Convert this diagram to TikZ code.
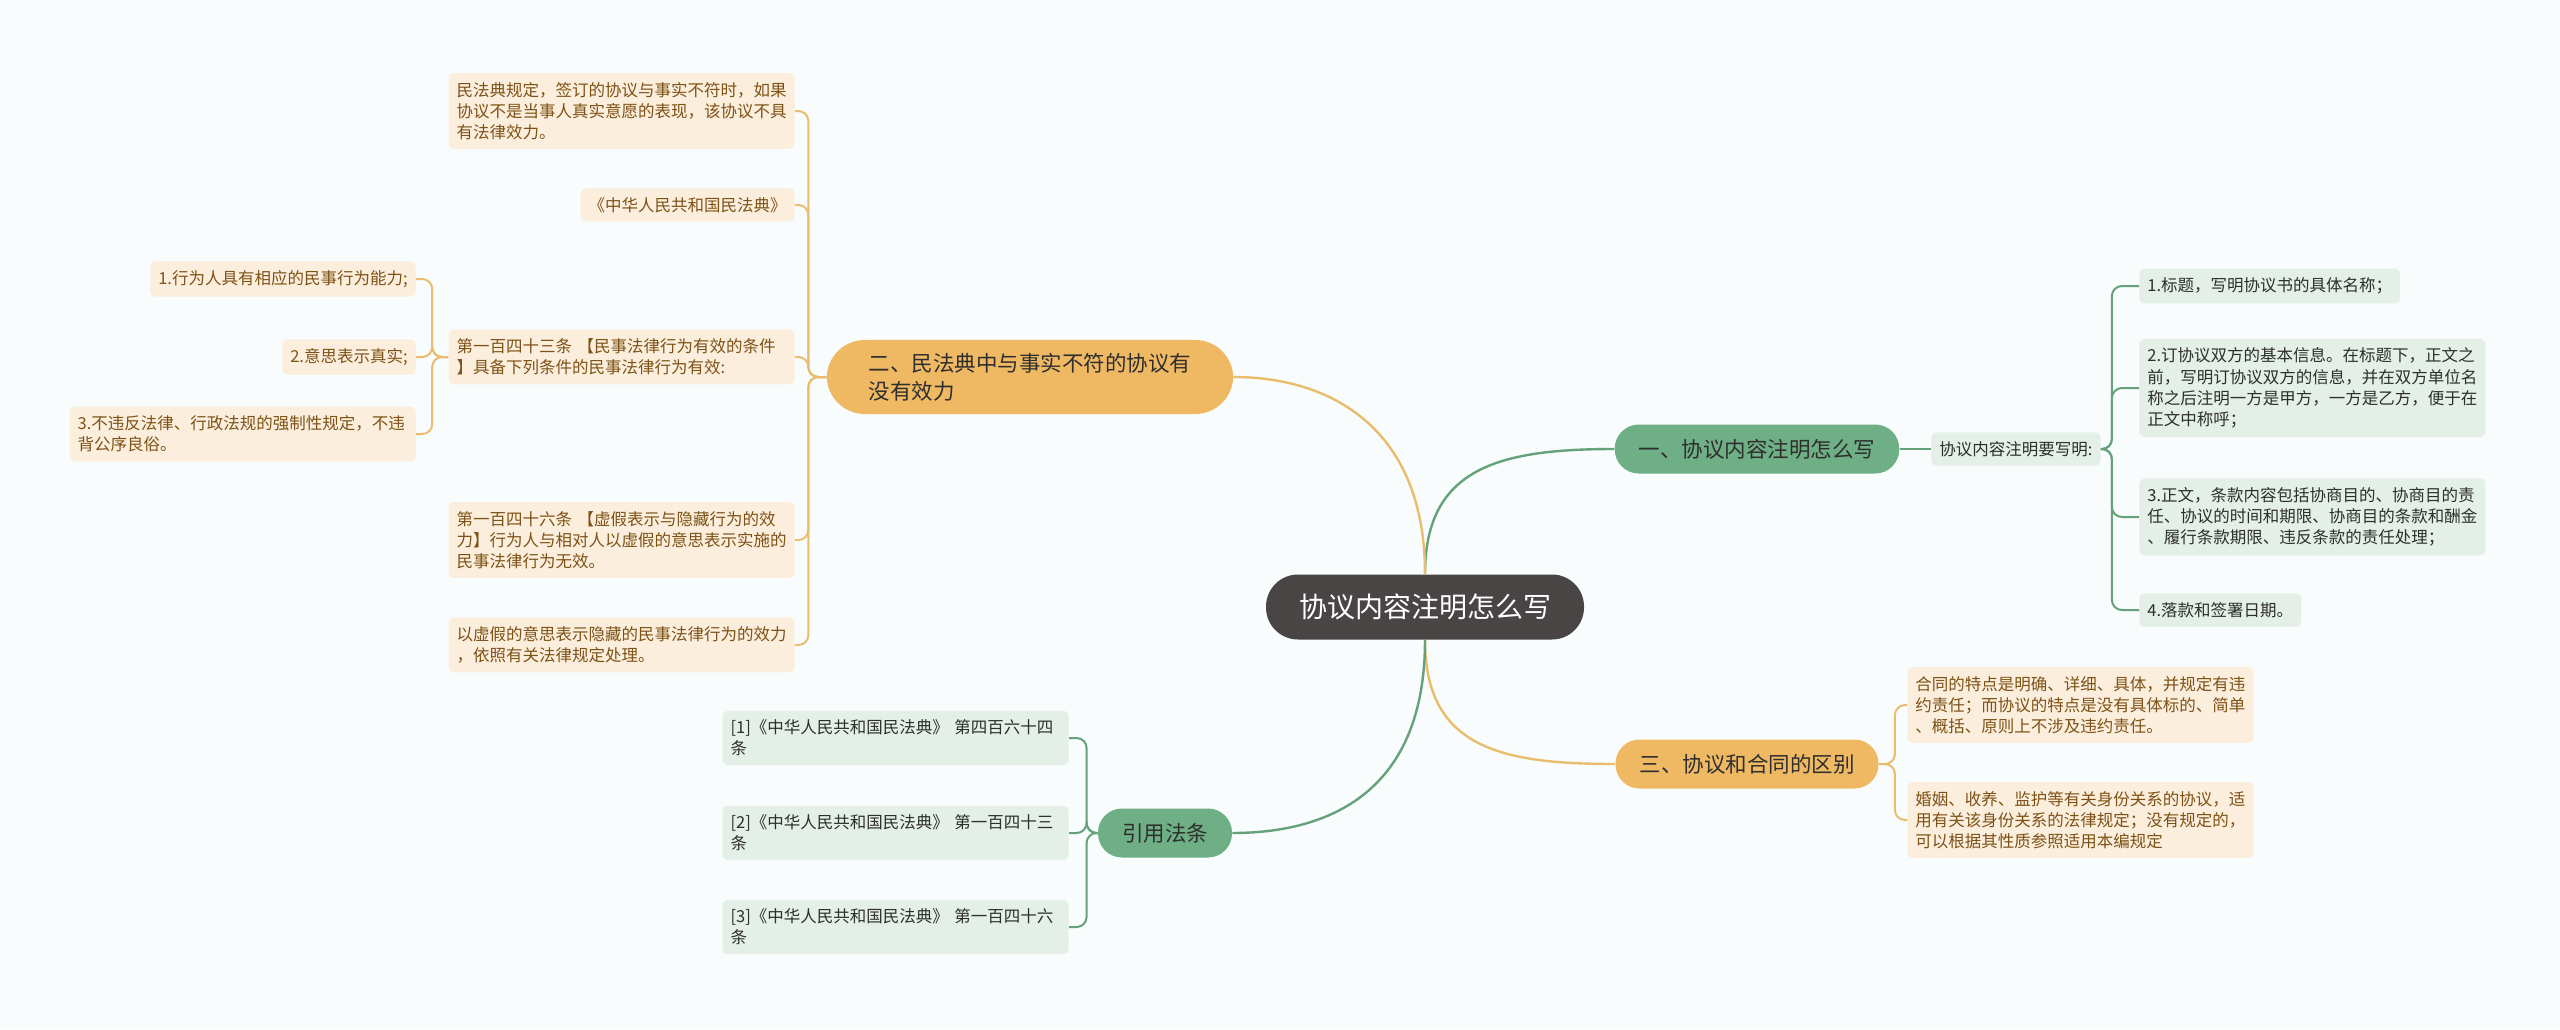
\documentclass[tikz,border=0pt]{standalone}
\usepackage{fontspec}
\setmainfont{Noto Sans CJK SC}
\usepackage{tikz}
\usetikzlibrary{calc}
\definecolor{bg}{HTML}{F8FCFC}
\definecolor{dark}{HTML}{4A4545}
\definecolor{ink}{HTML}{2E2E2E}
\definecolor{brown}{HTML}{7D5217}
\definecolor{gfill}{HTML}{6FAF85}
\definecolor{gline}{HTML}{65A27C}
\definecolor{gleaf}{HTML}{E4EFE7}
\definecolor{ofill}{HTML}{EFB964}
\definecolor{oline}{HTML}{E9BC6E}
\definecolor{oleaf}{HTML}{FCEEDC}
\tikzset{
  rootnode/.style={fill=dark, text=white, rounded corners=16pt, minimum height=32.5pt, inner xsep=16.5pt, font=\fontsize{14pt}{17pt}\selectfont},
  gbranch/.style={fill=gfill, text=ink, rounded corners=12pt, minimum height=24.5pt, inner xsep=12pt, font=\fontsize{10.75pt}{14pt}\selectfont},
  obranch/.style={gbranch, fill=ofill},
  gleafnode/.style={fill=gleaf, text=ink, rounded corners=2.5pt, inner xsep=4pt, inner ysep=4.5pt, align=left, font=\fontsize{8.25pt}{10.6pt}\selectfont},
  oleafnode/.style={gleafnode, fill=oleaf, text=brown},
  wide/.style={text width=165pt},
  gcurve/.style={draw=gline, line width=1.2pt},
  ocurve/.style={draw=oline, line width=1.2pt},
  glink/.style={draw=gline, line width=1pt, rounded corners=5pt},
  olink/.style={draw=oline, line width=1pt, rounded corners=5pt},
}
\begin{document}
\begin{tikzpicture}[x=0.5pt,y=-0.5pt]
  \fill[bg] (0,0) rectangle (2560,1029);

  \node[rootnode] (root) at (1425,607) {协议内容注明怎么写};
  \node[gbranch] (b1) at (1757,449) {一、协议内容注明怎么写};
  \node[obranch, align=left, inner xsep=21pt, inner ysep=6.5pt, rounded corners=19pt] (b2) at (1030,377) {二、民法典中与事实不符的协议有\\没有效力};
  \node[obranch] (b3) at (1747,764) {三、协议和合同的区别};
  \node[gbranch] (ref) at (1165,833) {引用法条};

  \node[gleafnode, anchor=west] (req) at (1931,449) {协议内容注明要写明:};
  \node[gleafnode, anchor=west] (g1) at (2139,286) {1.标题，写明协议书的具体名称；};
  \node[gleafnode, wide, anchor=west] (g2) at (2139,388) {2.订协议双方的基本信息。在标题下，正文之\\前，写明订协议双方的信息，并在双方单位名\\称之后注明一方是甲方，一方是乙方，便于在\\正文中称呼；};
  \node[gleafnode, wide, anchor=west] (g3) at (2139,517) {3.正文，条款内容包括协商目的、协商目的责\\任、协议的时间和期限、协商目的条款和酬金\\、履行条款期限、违反条款的责任处理；};
  \node[gleafnode, anchor=west] (g4) at (2139,610) {4.落款和签署日期。};

  \node[oleafnode, wide, anchor=west] (o1) at (1907,705) {合同的特点是明确、详细、具体，并规定有违\\约责任；而协议的特点是没有具体标的、简单\\、概括、原则上不涉及违约责任。};
  \node[oleafnode, wide, anchor=west] (o2) at (1907,820) {婚姻、收养、监护等有关身份关系的协议，适\\用有关该身份关系的法律规定；没有规定的，\\可以根据其性质参照适用本编规定};

  \node[gleafnode, wide, anchor=east] (r1) at (1069,738) {[1]《中华人民共和国民法典》 第四百六十四\\条};
  \node[gleafnode, wide, anchor=east] (r2) at (1069,833) {[2]《中华人民共和国民法典》 第一百四十三\\条};
  \node[gleafnode, wide, anchor=east] (r3) at (1069,927) {[3]《中华人民共和国民法典》 第一百四十六\\条};

  \node[oleafnode, wide, anchor=east] (a1) at (795,111) {民法典规定，签订的协议与事实不符时，如果\\协议不是当事人真实意愿的表现，该协议不具\\有法律效力。};
  \node[oleafnode, anchor=east] (a2) at (795,205) {《中华人民共和国民法典》};
  \node[oleafnode, wide, anchor=east] (a3) at (795,357) {第一百四十三条 【民事法律行为有效的条件\\】具备下列条件的民事法律行为有效:};
  \node[oleafnode, wide, anchor=east] (a4) at (795,540) {第一百四十六条 【虚假表示与隐藏行为的效\\力】行为人与相对人以虚假的意思表示实施的\\民事法律行为无效。};
  \node[oleafnode, wide, anchor=east] (a5) at (795,645) {以虚假的意思表示隐藏的民事法律行为的效力\\，依照有关法律规定处理。};
  \node[oleafnode, anchor=east] (c1) at (416,279) {1.行为人具有相应的民事行为能力;};
  \node[oleafnode, anchor=east] (c2) at (416,357) {2.意思表示真实;};
  \node[oleafnode, wide, anchor=east] (c3) at (416,434) {3.不违反法律、行政法规的强制性规定，不违\\背公序良俗。};

  \draw[gcurve] (root.north) .. controls ($(root.north)+(0,-106)$) and ($(b1.west)+(-116,0)$) .. (b1.west);
  \draw[ocurve] (root.north) .. controls ($(root.north)+(0,-146)$) and ($(b2.east)+(97,0)$) .. (b2.east);
  \draw[ocurve] (root.south) .. controls ($(root.south)+(0,107)$) and ($(b3.west)+(-116,0)$) .. (b3.west);
  \draw[gcurve] (root.south) .. controls ($(root.south)+(0,152)$) and ($(ref.east)+(97,0)$) .. (ref.east);

  \draw[glink] (b1.east) -- (req.west);
  \foreach \n in {g1,g2,g3,g4}
    \draw[glink] (req.east) -- ++(11,0) |- (\n.west);
  \foreach \n in {o1,o2}
    \draw[olink] (b3.east) -- ++(16,0) |- (\n.west);
  \foreach \n in {r1,r2,r3}
    \draw[glink] (ref.west) -- ++(-11,0) |- (\n.east);
  \foreach \n in {a1,a2,a3,a4,a5}
    \draw[olink] (b2.west) -- ++(-18,0) |- (\n.east);
  \foreach \n in {c1,c2,c3}
    \draw[olink] (a3.west) -- ++(-16,0) |- (\n.east);
\end{tikzpicture}
\end{document}
